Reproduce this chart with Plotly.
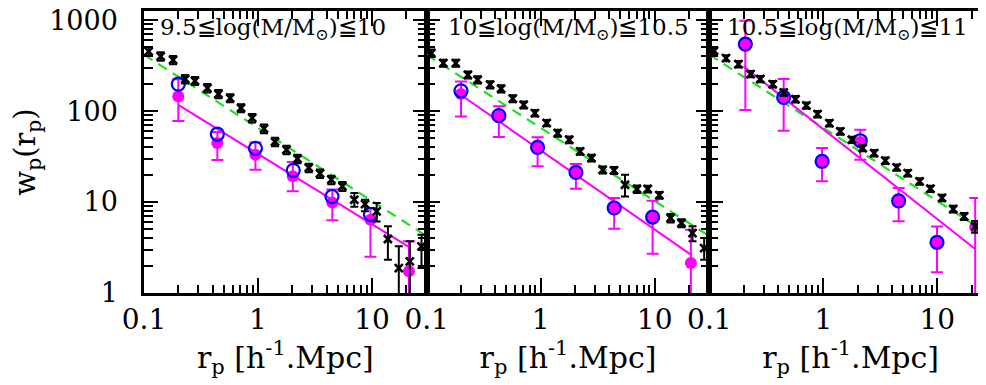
import plotly.graph_objects as go
from plotly.subplots import make_subplots

# ---------------- data ----------------
r_bins = [0.11, 0.14, 0.18, 0.23, 0.28, 0.36, 0.45, 0.57, 0.71, 0.89, 1.13, 1.41, 1.78,
          2.22, 2.79, 3.5, 4.4, 5.5, 7.0, 8.7, 11.0, 13.8, 17.2, 21.5, 27.2]

# black crosses (all galaxies) per panel
all_w_1 = [453, 400, 366, 225, 215, 179, 154, 139, 108, 84, 64, 46, 37.6, 29.9, 23.8, 20.6,
           17.6, 14.9, 10.6, 9.5, 7.9, 3.92, 1.88, 2.23, 3.26]
all_up_1 = [48, 42, 38, 24, 22, 19, 16, 14, 11, 9, 7, 5, 4, 3.2, 2.6, 2.2, 1.9, 1.7, 2.0, 1.1,
            1.85, 1.5, 1.38, 1.47, 1.11]
all_dn_1 = [48, 42, 38, 24, 22, 19, 16, 14, 11, 9, 7, 5, 4, 3.2, 2.6, 2.2, 1.9, 1.7, 1.7, 1.6,
            1.8, 1.6, 1.6, 1.9, 1.38]

all_w_2 = [434, 337, 337, 250, 221, 195, 176, 137, 117, 95, 74, 57.3, 48.4, 36.1, 30.5, 22.6,
           22.3, 15.5, 13.9, 13.9, 11.9, 6.67, 5.88, 4.56, 3.12]
all_up_2 = [40, 30, 30, 22, 20, 18, 16, 12, 10, 8, 6, 5, 4, 3, 2.6, 2, 2, 4.5, 1.3, 1.2, 1,
            0.7, 0.6, 0.85, 0.9]
all_dn_2 = [40, 30, 30, 22, 20, 18, 16, 12, 10, 8, 6, 5, 4, 3, 2.6, 2, 2, 4.0, 1.3, 1.2, 1,
            0.7, 0.6, 0.86, 0.8]

all_w_3 = [460, 382, 328, 255, 225, 198, 160, 135, 115, 92.6, 73.8, 59.8, 48.4, 39.2, 34.5,
           28.5, 24, 20.8, 16.9, 14.0, 11.1, 8.38, 6.96, 5.4, 3.76]
all_up_3 = [37, 30, 26, 20, 18, 16, 13, 11, 9, 7.4, 6, 4.8, 3.9, 3.1, 2.8, 2.3, 1.9, 1.7, 1.4,
            1.1, 0.9, 0.7, 0.6, 0.8, 0.6]
all_dn_3 = [37, 30, 26, 20, 18, 16, 13, 11, 9, 7.4, 6, 4.8, 3.9, 3.1, 2.8, 2.3, 1.9, 1.7, 1.4,
            1.1, 0.9, 0.7, 0.6, 0.8, 0.5]

# magenta filled circles (sample) with error bars
sub_r_1 = [0.2, 0.44, 0.95, 2.02, 4.49, 9.7, 21.1]
sub_w_1 = [145, 44.5, 33, 19.2, 9.9, 6.4, 1.73]
sub_hi_1 = [224, 59, 45, 27.5, 13.7, 8.6, 3.7]
sub_lo_1 = [78, 29, 22.6, 13.1, 6.3, 2.5, 0.3]

sub_r_2 = [0.2, 0.43, 0.94, 2.04, 4.42, 9.6, 20.8]
sub_w_2 = [154, 87, 39.9, 21.2, 8.6, 6.84, 2.14]
sub_hi_2 = [212, 113, 51.4, 26.2, 11.1, 10.3, 4.96]
sub_lo_2 = [87.4, 51.8, 24.7, 14, 5.1, 2.7, 0.3]

sub_r_3 = [0.207, 0.449, 0.975, 2.11, 4.58, 9.94, 21.5]
sub_w_3 = [545, 141, 28, 45.6, 10.3, 3.61, 5.3]
sub_hi_3 = [982, 225, 39.2, 62.3, 14.3, 5.4, 11.1]
sub_lo_3 = [103, 60.8, 16.9, 29.2, 6.14, 1.69, 0.3]

# blue open circles
alt_r_1 = [0.2, 0.44, 0.95, 2.04, 4.46, 9.7]
alt_w_1 = [198, 55.9, 39, 22.3, 11.5, 7.3]
alt_r_2 = [0.2, 0.43, 0.94, 2.04, 4.42, 9.6]
alt_w_2 = [167, 89, 39.9, 21.2, 8.6, 6.84]
alt_r_3 = [0.207, 0.449, 0.975, 2.11, 4.58, 9.94]
alt_w_3 = [545, 141, 28, 47.2, 10.3, 3.61]

# power-law fits (end points)
fit_r_1 = [0.2, 21.4]
fit_w_1 = [117, 3.18]
fit_r_2 = [0.2, 20.8]
fit_w_2 = [150, 2.64]
fit_r_3 = [0.2, 21.5]
fit_w_3 = [310, 3.04]
ref_r = [0.1, 29.5]
ref_w = [416, 4.3]

panel_labels = ["9.5≦log(M/M<sub>⊙</sub>)≦10",
                "10≦log(M/M<sub>⊙</sub>)≦10.5",
                "10.5≦log(M/M<sub>⊙</sub>)≦11"]
label_x = [265, 560, 839]

x_ticks = [0.1, 1, 10]
x_ticktext = ["0.1", "1", "10"]
y_ticks = [1, 10, 100, 1000]
y_ticktext = ["1", "10", "100", "1000"]

# ---------------- figure ----------------
W, H = 986, 385
ML, MR, MT, MB = 136, 2, 3, 100
fig = make_subplots(rows=1, cols=3, shared_yaxes=True, horizontal_spacing=0)

MAG = "#ff00ff"
BLUE = "#0000ff"
GREEN = "#1fe01f"
FONT = "DejaVu Serif"
XR = [-1, 1.48]
YR = [0, 3.1]

panels = [
    (all_w_1, all_up_1, all_dn_1, sub_r_1, sub_w_1, sub_hi_1, sub_lo_1, alt_r_1, alt_w_1, fit_r_1, fit_w_1),
    (all_w_2, all_up_2, all_dn_2, sub_r_2, sub_w_2, sub_hi_2, sub_lo_2, alt_r_2, alt_w_2, fit_r_2, fit_w_2),
    (all_w_3, all_up_3, all_dn_3, sub_r_3, sub_w_3, sub_hi_3, sub_lo_3, alt_r_3, alt_w_3, fit_r_3, fit_w_3),
]

for i, (aw, au, ad, sr, sw, shi, slo, ar, awb, fr, fw) in enumerate(panels):
    col = i + 1
    fig.add_trace(go.Scatter(x=ref_r, y=ref_w, mode="lines",
                             line=dict(color=GREEN, width=2.2, dash="10px,7px"),
                             showlegend=False, hoverinfo="skip"), row=1, col=col)
    fig.add_trace(go.Scatter(x=fr, y=fw, mode="lines",
                             line=dict(color=MAG, width=2),
                             showlegend=False, hoverinfo="skip"), row=1, col=col)
    fig.add_trace(go.Scatter(
        x=sr, y=sw, mode="markers",
        marker=dict(symbol="circle", size=12, color=MAG, line=dict(width=0)),
        error_y=dict(type="data", symmetric=False,
                     array=[h - w for h, w in zip(shi, sw)],
                     arrayminus=[w - l for l, w in zip(slo, sw)],
                     color=MAG, thickness=2, width=6),
        showlegend=False), row=1, col=col)
    fig.add_trace(go.Scatter(
        x=ar, y=awb, mode="markers",
        marker=dict(symbol="circle-open", size=13, color=BLUE, line=dict(width=2.2, color=BLUE)),
        showlegend=False), row=1, col=col)
    fig.add_trace(go.Scatter(
        x=r_bins, y=aw, mode="markers",
        marker=dict(symbol="x-thin-open", size=8, color="black", line=dict(width=2.6, color="black")),
        error_y=dict(type="data", symmetric=False, array=au, arrayminus=ad,
                     color="black", thickness=2, width=4),
        showlegend=False), row=1, col=col)

for i in range(3):
    fig.update_xaxes(
        type="log", range=XR, tickmode="array", tickvals=x_ticks, ticktext=x_ticktext,
        ticks="inside", ticklen=15, tickwidth=2, tickcolor="black",
        minor=dict(dtick="D1", ticks="inside", ticklen=8, tickwidth=1.5,
                   tickcolor="black", showgrid=False),
        showline=True, linewidth=2.5, linecolor="black", mirror="allticks",
        showgrid=False, zeroline=False, automargin=False,
        tickfont=dict(family=FONT, size=28, color="black"),
        title=dict(text="r<sub>p</sub> [h<sup>-1</sup>.Mpc]",
                   font=dict(family=FONT, size=30, color="black"), standoff=4),
        row=1, col=i + 1)
    fig.update_yaxes(
        type="log", range=YR, tickmode="array", tickvals=y_ticks, ticktext=y_ticktext,
        ticks="inside", ticklen=14, tickwidth=2, tickcolor="black",
        minor=dict(dtick="D1", ticks="inside", ticklen=9, tickwidth=1.5,
                   tickcolor="black", showgrid=False),
        showline=True, linewidth=2.5, linecolor="black", mirror="allticks",
        showgrid=False, zeroline=False, automargin=False,
        tickfont=dict(family=FONT, size=27, color="black"),
        ticklabeloverflow="allow", ticklabelstandoff=18,
        showticklabels=(i == 0),
        row=1, col=i + 1)

fig.update_yaxes(title=dict(text="w<sub>p</sub>(r<sub>p</sub>)",
                            font=dict(family=FONT, size=29, color="black"), standoff=30),
                 row=1, col=1)

pw = W - ML - MR
ph = H - MT - MB
for lab, lx in zip(panel_labels, label_x):
    fig.add_annotation(text=lab, x=(lx - ML) / pw, y=1 - (21 - MT) / ph,
                       xref="paper", yref="paper",
                       xanchor="center", yanchor="middle", showarrow=False,
                       font=dict(family=FONT, size=23, color="black"))

fig.update_layout(width=W, height=H, margin=dict(l=ML, r=MR, t=MT, b=MB, autoexpand=False),
                  plot_bgcolor="white", paper_bgcolor="white",
                  font=dict(family=FONT, color="black"))

fig.write_html("out.html")
